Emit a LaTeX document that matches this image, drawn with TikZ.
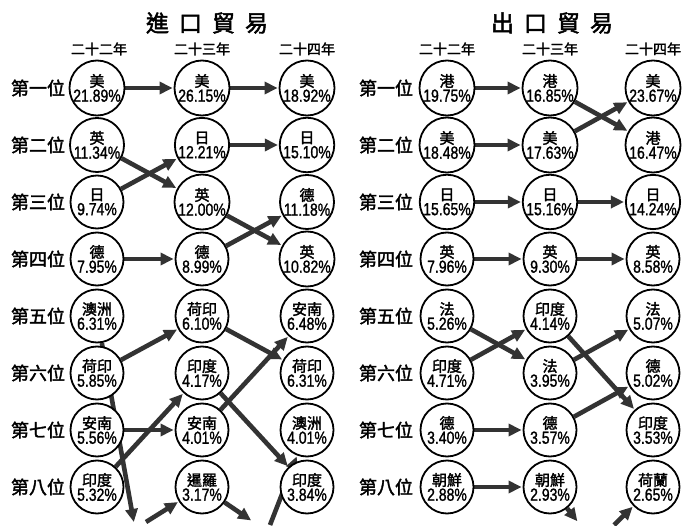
\documentclass[tikz,border=0pt]{standalone}
\usepackage{fontspec}
\newfontfamily\cjk{Noto Sans CJK TC}
\newfontfamily\cjkbold[FakeBold=2]{Noto Sans CJK TC}
\newfontfamily\pct[FakeStretch=0.8,FakeBold=1.2]{Liberation Sans}
\newcommand{\pv}[1]{{\pct\fontsize{17.5}{17}\selectfont #1\%}}
\usetikzlibrary{positioning,arrows.meta,backgrounds}

\begin{document}
\begin{tikzpicture}[
  x=1pt, y=-1pt,
  bubble/.style={circle, draw, line width=1.8pt, fill=white, minimum size=53pt,
                 inner sep=0pt, align=center, font=\cjkbold\fontsize{15}{15}\selectfont},
  rank/.style={font=\cjkbold\fontsize{18}{18}\selectfont},
  year/.style={font=\cjkbold\fontsize{14}{14}\selectfont},
  heading/.style={font=\cjkbold\fontsize{23}{23}\selectfont},
  flow/.style={-{Triangle[length=13pt,width=12pt]}, line width=4.6pt, black!80, shorten >=1pt},
]
  \useasboundingbox (0,0) rectangle (687,526);

  % headings
  \node[heading] (imtitle) at (207,23) {進\hspace{10pt}口\hspace{10pt}貿\hspace{10pt}易};
  \node[heading] (extitle) at (552,23) {出\hspace{10pt}口\hspace{10pt}貿\hspace{10pt}易};
  \node[year] (imy22) at (99,49) {二十二年};
  \node[year] (imy23) at (202,49) {二十三年};
  \node[year] (imy24) at (307,49) {二十四年};
  \node[year] (exy22) at (447,49) {二十二年};
  \node[year] (exy23) at (550,49) {二十三年};
  \node[year] (exy24) at (653,49) {二十四年};

  % ranks
  \node[rank] (imk1) at (38,88) {第一位};
  \node[rank] (imk2) at (38,145) {第二位};
  \node[rank] (imk3) at (38,202) {第三位};
  \node[rank] (imk4) at (38,259) {第四位};
  \node[rank] (imk5) at (38,316) {第五位};
  \node[rank] (imk6) at (38,373) {第六位};
  \node[rank] (imk7) at (38,430) {第七位};
  \node[rank] (imk8) at (38,487) {第八位};
  \node[rank] (exk1) at (386,88) {第一位};
  \node[rank] (exk2) at (386,145) {第二位};
  \node[rank] (exk3) at (386,202) {第三位};
  \node[rank] (exk4) at (386,259) {第四位};
  \node[rank] (exk5) at (386,316) {第五位};
  \node[rank] (exk6) at (386,373) {第六位};
  \node[rank] (exk7) at (386,430) {第七位};
  \node[rank] (exk8) at (386,487) {第八位};

  % imports
  \node[bubble] (i22r1) at (97,88) {美\\\pv{21.89}};
  \node[bubble] (i22r2) at (97,145) {英\\\pv{11.34}};
  \node[bubble] (i22r3) at (97,202) {日\\\pv{9.74}};
  \node[bubble] (i22r4) at (97,259) {德\\\pv{7.95}};
  \node[bubble] (i22r5) at (97,316) {澳洲\\\pv{6.31}};
  \node[bubble] (i22r6) at (97,373) {荷印\\\pv{5.85}};
  \node[bubble] (i22r7) at (97,430) {安南\\\pv{5.56}};
  \node[bubble] (i22r8) at (97,487) {印度\\\pv{5.32}};
  \node[bubble] (i23r1) at (202,88) {美\\\pv{26.15}};
  \node[bubble] (i23r2) at (202,145) {日\\\pv{12.21}};
  \node[bubble] (i23r3) at (202,202) {英\\\pv{12.00}};
  \node[bubble] (i23r4) at (202,259) {德\\\pv{8.99}};
  \node[bubble] (i23r5) at (202,316) {荷印\\\pv{6.10}};
  \node[bubble] (i23r6) at (202,373) {印度\\\pv{4.17}};
  \node[bubble] (i23r7) at (202,430) {安南\\\pv{4.01}};
  \node[bubble] (i23r8) at (202,487) {暹羅\\\pv{3.17}};
  \node[bubble] (i24r1) at (307,88) {美\\\pv{18.92}};
  \node[bubble] (i24r2) at (307,145) {日\\\pv{15.10}};
  \node[bubble] (i24r3) at (307,202) {德\\\pv{11.18}};
  \node[bubble] (i24r4) at (307,259) {英\\\pv{10.82}};
  \node[bubble] (i24r5) at (307,316) {安南\\\pv{6.48}};
  \node[bubble] (i24r6) at (307,373) {荷印\\\pv{6.31}};
  \node[bubble] (i24r7) at (307,430) {澳洲\\\pv{4.01}};
  \node[bubble] (i24r8) at (307,487) {印度\\\pv{3.84}};

  % exports
  \node[bubble] (e22r1) at (447,88) {港\\\pv{19.75}};
  \node[bubble] (e22r2) at (447,145) {美\\\pv{18.48}};
  \node[bubble] (e22r3) at (447,202) {日\\\pv{15.65}};
  \node[bubble] (e22r4) at (447,259) {英\\\pv{7.96}};
  \node[bubble] (e22r5) at (447,316) {法\\\pv{5.26}};
  \node[bubble] (e22r6) at (447,373) {印度\\\pv{4.71}};
  \node[bubble] (e22r7) at (447,430) {德\\\pv{3.40}};
  \node[bubble] (e22r8) at (447,487) {朝鮮\\\pv{2.88}};
  \node[bubble] (e23r1) at (550,88) {港\\\pv{16.85}};
  \node[bubble] (e23r2) at (550,145) {美\\\pv{17.63}};
  \node[bubble] (e23r3) at (550,202) {日\\\pv{15.16}};
  \node[bubble] (e23r4) at (550,259) {英\\\pv{9.30}};
  \node[bubble] (e23r5) at (550,316) {印度\\\pv{4.14}};
  \node[bubble] (e23r6) at (550,373) {法\\\pv{3.95}};
  \node[bubble] (e23r7) at (550,430) {德\\\pv{3.57}};
  \node[bubble] (e23r8) at (550,487) {朝鮮\\\pv{2.93}};
  \node[bubble] (e24r1) at (653,88) {美\\\pv{23.67}};
  \node[bubble] (e24r2) at (653,145) {港\\\pv{16.47}};
  \node[bubble] (e24r3) at (653,202) {日\\\pv{14.24}};
  \node[bubble] (e24r4) at (653,259) {英\\\pv{8.58}};
  \node[bubble] (e24r5) at (653,316) {法\\\pv{5.07}};
  \node[bubble] (e24r6) at (653,373) {德\\\pv{5.02}};
  \node[bubble] (e24r7) at (653,430) {印度\\\pv{3.53}};
  \node[bubble] (e24r8) at (653,487) {荷蘭\\\pv{2.65}};

  % ends of the arrows that leave or enter the first eight
  \coordinate (imOut22) at (134,523);
  \coordinate (imIn23) at (146,522);
  \coordinate (imOut23) at (252,521);
  \coordinate (imIn24) at (270,525);
  \coordinate (exOut23) at (578,522);
  \coordinate (exIn24) at (614,525);

  \begin{scope}[on background layer]
    \fill[white] (0,0) rectangle (687,526);
    % imports
    \draw[flow] (i22r1) -- (i23r1);
    \draw[flow] (i22r2) -- (i23r3);
    \draw[flow] (i22r3) -- (i23r2);
    \draw[flow] (i22r4) -- (i23r4);
    \draw[flow] (i22r5) -- (imOut22);
    \draw[flow] (i22r6) -- (i23r5);
    \draw[flow] (i22r7) -- (i23r7);
    \draw[flow] (i22r8) -- (i23r6);
    \draw[flow] (imIn23) -- (i23r8);
    \draw[flow] (i23r1) -- (i24r1);
    \draw[flow] (i23r2) -- (i24r2);
    \draw[flow] (i23r3) -- (i24r4);
    \draw[flow] (i23r4) -- (i24r3);
    \draw[flow] (i23r5) -- (i24r6);
    \draw[flow] (i23r6) -- (i24r8);
    \draw[flow] (i23r7) -- (i24r5);
    \draw[flow] (i23r8) -- (imOut23);
    \draw[flow] (imIn24) -- (i24r7);
    % exports
    \draw[flow] (e22r1) -- (e23r1);
    \draw[flow] (e22r2) -- (e23r2);
    \draw[flow] (e22r3) -- (e23r3);
    \draw[flow] (e22r4) -- (e23r4);
    \draw[flow] (e22r5) -- (e23r6);
    \draw[flow] (e22r6) -- (e23r5);
    \draw[flow] (e22r7) -- (e23r7);
    \draw[flow] (e22r8) -- (e23r8);
    \draw[flow] (e23r1) -- (e24r2);
    \draw[flow] (e23r2) -- (e24r1);
    \draw[flow] (e23r3) -- (e24r3);
    \draw[flow] (e23r4) -- (e24r4);
    \draw[flow] (e23r5) -- (e24r7);
    \draw[flow] (e23r6) -- (e24r5);
    \draw[flow] (e23r7) -- (e24r6);
    \draw[flow] (e23r8) -- (exOut23);
    \draw[flow] (exIn24) -- (e24r8);
  \end{scope}
\end{tikzpicture}
\end{document}
